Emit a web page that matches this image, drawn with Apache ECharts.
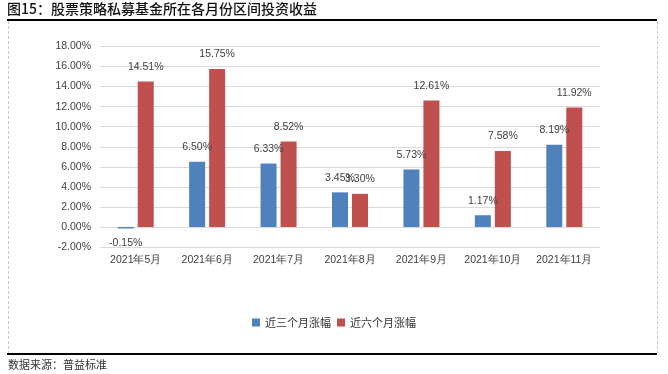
<!DOCTYPE html>
<html><head><meta charset="utf-8">
<script src="https://cdn.jsdelivr.net/npm/echarts@6/dist/echarts.min.js"></script>
<style>html,body{margin:0;padding:0;background:#fff}#c{width:668px;height:374px}</style>
</head><body><div id="c"></div>
<script>
const categories = ['2021年5月','2021年6月','2021年7月','2021年8月','2021年9月','2021年10月','2021年11月'];
const threeMonth = [-0.15, 6.50, 6.33, 3.45, 5.73, 1.17, 8.19];
const sixMonth = [14.51, 15.75, 8.52, 3.30, 12.61, 7.58, 11.92];
const seriesNames = ['近三个月涨幅','近六个月涨幅'];
const titleText = '图15：股票策略私募基金所在各月份区间投资收益';
const sourceText = '数据来源：普益标准';

const chart = echarts.init(document.getElementById('c'), null, {renderer:'canvas'});
const numFont = 'Liberation Sans, Arial, sans-serif';
const cjkFont = '"Noto Sans CJK SC", sans-serif';
const lbl = {
  show:true, position:'top', distance:9, fontSize:10.5, color:'#404040', fontFamily:numFont,
  formatter: p => p.value.toFixed(2) + '%'
};
function mkData(arr){
  return arr.map(v => v < 0 ? {value:v, label:{position:'bottom'}} : v);
}
chart.setOption({
  animation:false,
  title:{text:titleText, left:7, top:2, padding:0, textStyle:{fontSize:14, fontWeight:500, color:'#111', fontFamily:cjkFont}},
  legend:{data:seriesNames, left:'center', top:317, itemWidth:8, itemHeight:8, itemGap:6,
    textStyle:{fontSize:11, color:'#333', fontFamily:cjkFont}, icon:'rect', padding:[0,0,0,0], selectedMode:false},
  grid:{left:100, right:68, top:46.5, bottom:127},
  xAxis:{type:'category', data:categories,
    axisLine:{show:false, onZero:false}, axisTick:{show:false},
    axisLabel:{interval:0, fontSize:10.5, color:'#404040', margin:8, fontFamily:numFont}},
  yAxis:{type:'value', min:-2, max:18, interval:2,
    axisLine:{show:false}, axisTick:{show:false},
    splitLine:{lineStyle:{color:'#d9d9d9', width:1}},
    axisLabel:{fontSize:10.5, color:'#404040', margin:9, fontFamily:numFont, formatter: v => v.toFixed(2)+'%'}},
  series:[
    {name:seriesNames[0], type:'bar', data:mkData(threeMonth), barWidth:16, barGap:'25%', itemStyle:{color:'#4F81BD'}, label:lbl},
    {name:seriesNames[1], type:'bar', data:mkData(sixMonth), barWidth:16, barGap:'25%', itemStyle:{color:'#C0504D'}, label:lbl}
  ],
  graphic:[
    {type:'line', shape:{x1:7, y1:20, x2:657, y2:20}, style:{stroke:'#000', lineWidth:2}},
    {type:'line', shape:{x1:7, y1:354, x2:657, y2:354}, style:{stroke:'#000', lineWidth:2}},
    {type:'line', shape:{x1:8.5, y1:21, x2:8.5, y2:353}, style:{stroke:'#c8c8c8', lineWidth:1, lineDash:[3,2]}},
    {type:'line', shape:{x1:657.5, y1:21, x2:657.5, y2:353}, style:{stroke:'#c8c8c8', lineWidth:1, lineDash:[3,2]}},
    {type:'text', left:8, top:359, style:{text:sourceText, fontSize:11, fill:'#333', fontFamily:cjkFont}}
  ]
});
</script></body></html>
